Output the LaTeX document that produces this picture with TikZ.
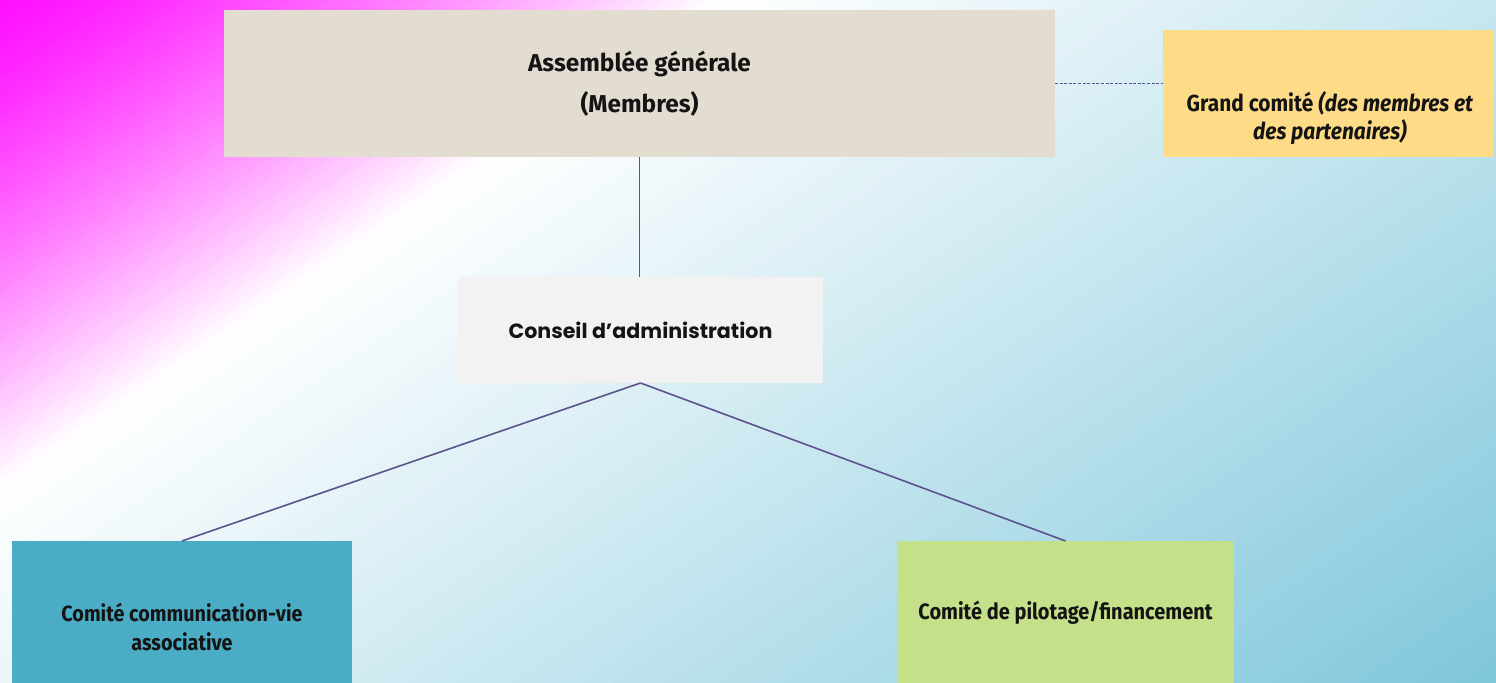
\documentclass[tikz,border=0pt]{standalone}
\usepackage{fontspec}
\setmainfont{Fira Sans}
\newfontfamily\geo{Poppins}
\newfontfamily\cond[FakeStretch=0.9]{Fira Sans}
\definecolor{bgmag}{RGB}{255,16,255}
\definecolor{bgend}{RGB}{126,198,219}
\definecolor{agc}{RGB}{227,221,209}
\definecolor{gcc}{RGB}{253,219,135}
\definecolor{cac}{RGB}{242,242,242}
\definecolor{ccc}{RGB}{75,172,198}
\definecolor{cpc}{RGB}{196,224,136}
\definecolor{linec}{RGB}{92,82,140}
\definecolor{txt}{RGB}{20,20,20}
\begin{document}
\begin{tikzpicture}[x=0.5pt,y=-0.5pt,
  box/.style={rectangle, inner sep=0pt, outer sep=0pt},
  lbl/.style={align=center, text=txt, inner sep=0pt},
  link/.style={draw=linec, line width=0.8pt}]
\useasboundingbox (0,0) rectangle (1496,683);
% background gradient
\begin{scope}
\clip (0,0) rectangle (1496,683);
\fill[bgend] (0,0) rectangle (1496,683);
\begin{scope}[rotate=-55.8]
\foreach \i in {0,...,49} {
  \pgfmathsetmacro{\a}{\i*8.1}
  \pgfmathsetmacro{\p}{100*((\i+0.5)/50)^1.3}
  \fill[white!\p!bgmag] (\a,-2000) rectangle ({\a+8.7},2000);
}
\foreach \i in {0,...,69} {
  \pgfmathsetmacro{\a}{405+\i*14.4}
  \pgfmathsetmacro{\p}{(\i+0.5)*100/70}
  \fill[bgend!\p!white] (\a,-2000) rectangle ({\a+15},2000);
}
\end{scope}
\end{scope}
% boxes
\node[box, fill=agc, minimum width=415.5pt, minimum height=73.5pt,
  align=center, text=txt, font=\bfseries\fontsize{12.2}{20.5}\selectfont] (ag) at (639.5,83.5) {Assemblée générale\\(Membres)};
\node[box, fill=gcc, minimum width=165.5pt, minimum height=63.5pt] (gc) at (1328.5,93.5) {};
\node[lbl, font=\cond\bfseries\fontsize{11.6}{14}\selectfont] (gct) at (1330,118) {Grand comité \textit{(des membres et}\\\textit{des partenaires)}};
\node[box, fill=cac, minimum width=182.5pt, minimum height=53pt,
  text=txt, font=\geo\bfseries\fontsize{10.3}{12}\selectfont] (ca) at (640.5,330) {Conseil d’administration};
\node[box, fill=ccc, minimum width=170pt, minimum height=71pt] (cc) at (182,612) {};
\node[lbl, font=\cond\bfseries\fontsize{11}{14.5}\selectfont] (cct) at (182,627) {Comité communication-vie\\associative};
\node[box, fill=cpc, minimum width=168.5pt, minimum height=71pt] (cp) at (1065.5,612) {};
\node[lbl, font=\cond\bfseries\fontsize{11.1}{14.5}\selectfont] (cpt) at (1065.5,613) {Comité de pilotage/financement};
% connectors
\draw[link] (ag.south) -- (ag.south |- ca.north);
\draw[link] (ca.south) -- (cc.north);
\draw[link] (ca.south) -- (cp.north);
\draw[draw=linec, line width=0.6pt, dash pattern=on 1.5pt off 0.8pt] (ag.east) -- (ag.east -| gc.west);
\end{tikzpicture}
\end{document}
